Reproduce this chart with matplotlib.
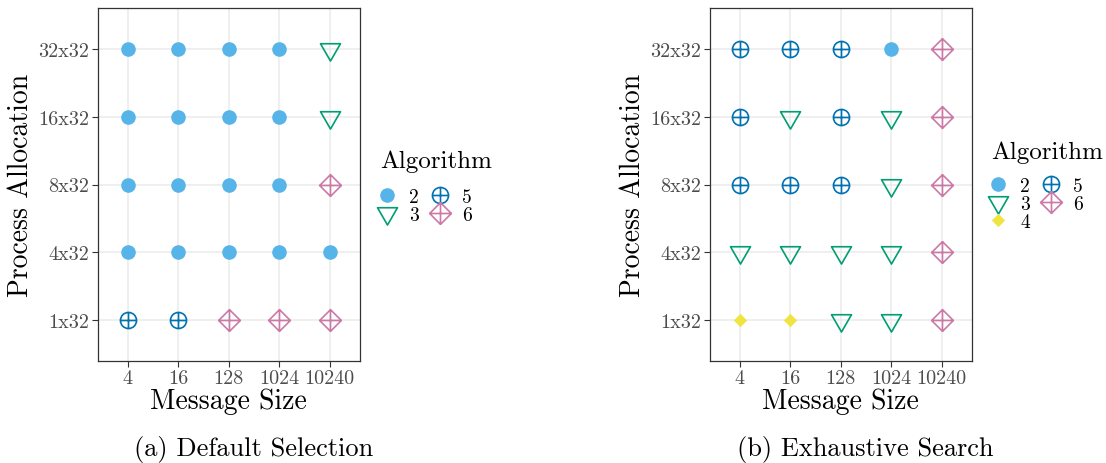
import matplotlib
matplotlib.use('Agg')
import matplotlib.pyplot as plt
import numpy as np
from matplotlib.path import Path

plt.rcParams['font.family'] = ['cmr10', 'DejaVu Serif']
plt.rcParams['axes.formatter.use_mathtext'] = True
plt.rcParams['mathtext.fontset'] = 'cm'

msg_sizes = ['4', '16', '128', '1024', '10240']
allocations = ['1x32', '4x32', '8x32', '16x32', '32x32']

# best algorithm per allocation (rows, bottom to top) and message size (cols)
default_sel = [
    [5, 5, 6, 6, 6],
    [2, 2, 2, 2, 2],
    [2, 2, 2, 2, 6],
    [2, 2, 2, 2, 3],
    [2, 2, 2, 2, 3],
]
exhaustive = [
    [4, 4, 3, 3, 6],
    [3, 3, 3, 3, 6],
    [5, 5, 5, 3, 6],
    [5, 3, 5, 3, 6],
    [5, 5, 5, 2, 6],
]
algorithms = [2, 3, 4, 5, 6]
captions = ['(a) Default Selection', '(b) Exhaustive Search']

# marker shapes like ggplot shapes 16, 6, 18, 10, 9
M, L, C = Path.MOVETO, Path.LINETO, Path.CLOSEPOLY
cross = Path([[-1, 0], [1, 0], [0, -1], [0, 1]], [M, L, M, L])
circle_plus = Path.make_compound_path(Path.unit_circle(), cross)
diamond = Path([[0, 1], [1, 0], [0, -1], [-1, 0], [0, 1]], [M, L, L, L, C])
diamond_plus = Path.make_compound_path(diamond, cross)
tri_down = Path([[-1, 0.577], [1, 0.577], [0, -1.155], [-1, 0.577]], [M, L, L, C])

styles = {
    2: dict(marker='o', color='#56B4E9', ms=10.5, filled=True),
    3: dict(marker=tri_down, color='#009E73', ms=16.6, filled=False),
    4: dict(marker=diamond, color='#F0E442', ms=9.6, filled=True),
    5: dict(marker=circle_plus, color='#0072B2', ms=11.6, filled=False),
    6: dict(marker=diamond_plus, color='#CC79A7', ms=15.6, filled=False),
}

W, H = 1106, 464
fig = plt.figure(figsize=(W / 100, H / 100), dpi=100)

# axes left, legend title (x, y), legend box (x, y), caption x
panels = [
    (default_sel, 97.5, (380, 162), (377, 189), 254),
    (exhaustive, 709.5, (991, 153), (988, 178), 865),
]

for k, (grid, left_px, title_xy, leg_xy, cap_x) in enumerate(panels):
    ax = fig.add_axes([left_px / W, 1 - 362 / H, 262.5 / W, 353 / H])
    grid = np.array(grid)
    handles = []
    for a in algorithms:
        yi, xi = np.where(grid == a)
        if len(xi) == 0:
            continue
        s = styles[a]
        if s['filled']:
            ln, = ax.plot(xi, yi, linestyle='none', marker=s['marker'], ms=s['ms'],
                          markerfacecolor=s['color'], markeredgewidth=0, label=str(a))
        else:
            ln, = ax.plot(xi, yi, linestyle='none', marker=s['marker'], ms=s['ms'],
                          markerfacecolor='none', markeredgecolor=s['color'],
                          markeredgewidth=1.2, label=str(a))
        handles.append(ln)

    ax.set_xlim(-0.6, 4.6)
    ax.set_ylim(-0.6, 4.6)
    ax.set_xticks(range(len(msg_sizes)))
    ax.set_xticklabels(msg_sizes)
    ax.set_yticks(range(len(allocations)))
    ax.set_yticklabels(allocations)
    ax.tick_params(axis='both', labelsize=14.5, labelcolor='#4D4D4D', color='#333333',
                   length=4, width=0.8, pad=2)
    ax.grid(True, color='#EBEBEB', linewidth=1.1)
    ax.set_axisbelow(True)
    for sp in ax.spines.values():
        sp.set_color('#333333')
        sp.set_linewidth(0.9)
    ax.set_xlabel('Message Size', fontsize=20, labelpad=0)
    ax.set_ylabel('Process Allocation', fontsize=20, labelpad=3)

    fig.text(title_xy[0] / W, 1 - title_xy[1] / H, 'Algorithm', fontsize=18,
             ha='left', va='center')
    ax.legend(handles=handles, ncol=2, frameon=False,
              loc='upper left', bbox_to_anchor=(leg_xy[0] / W, 1 - leg_xy[1] / H),
              bbox_transform=fig.transFigure, fontsize=14,
              borderpad=0, borderaxespad=0, handlelength=1.05, handleheight=0.7,
              handletextpad=0.6, columnspacing=0.55, labelspacing=0.0)

    fig.text(cap_x / W, 1 - 450 / H, captions[k], fontsize=19, ha='center', va='center')

fig.savefig('out.png', dpi=100)
